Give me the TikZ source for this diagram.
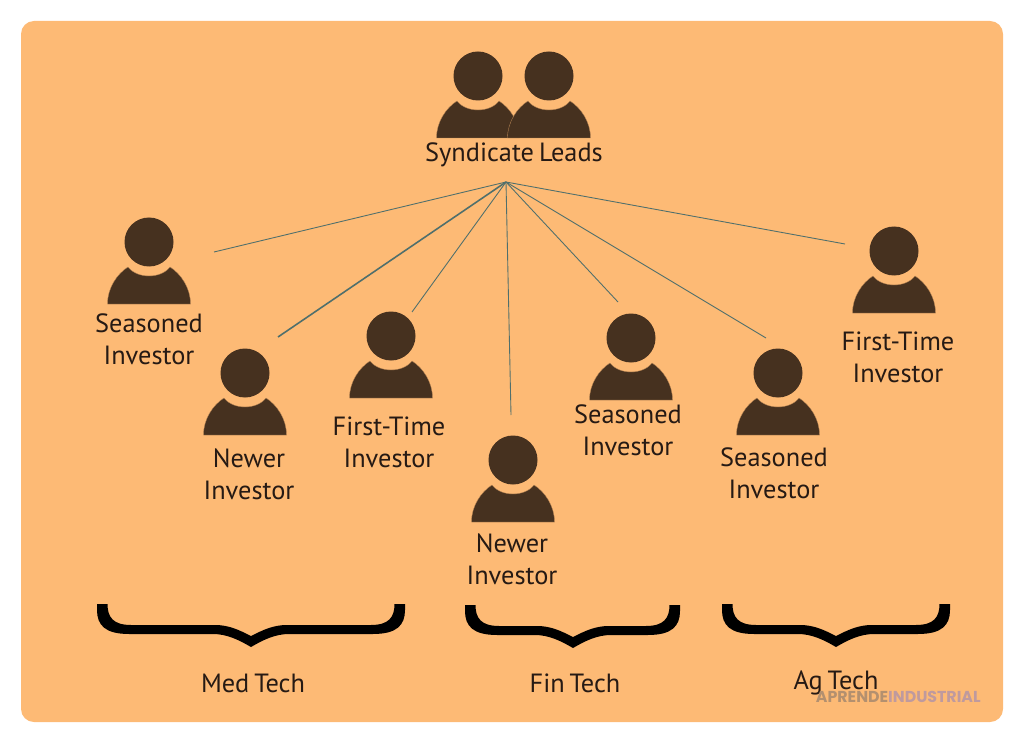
\documentclass[tikz,border=0pt]{standalone}
\usepackage{fontspec}
\setmainfont{PT Sans}[WordSpace=0.7]
\newfontfamily\markfont{Poppins}
\usetikzlibrary{positioning,calc}
\definecolor{ctBg}{HTML}{FDBA75}
\definecolor{ctFig}{HTML}{46311F}
\definecolor{ctLine}{HTML}{4F6F6C}
\definecolor{ctText}{HTML}{261A14}
\tikzset{
  lbl/.style={font=\fontsize{15}{18.2}\selectfont,text=ctText,align=center,inner sep=0pt},
  spoke/.style={ctLine,line width=0.5pt},
  pics/investor/.style={code={
    \fill[ctFig] (0,0) circle (24.5);
    \filldraw[ctFig,draw=ctBg!60!ctFig,line width=0.2pt] (-41.5,62) .. controls (-41.5,46) and (-32,32) .. (-21,25)
      .. controls (-12,37) and (12,37) .. (21,25)
      .. controls (32,32) and (41.5,46) .. (41.5,62) -- cycle;}},
  pics/techbrace/.style n args={2}{code={
    \fill[black] ({-#1},-43) -- ({-#1},-37) .. controls ({-#1},-22) and ({-#1+8},-13) .. ({-#1+32},-13)
      -- (-38,-13) .. controls (-24,-13) and (-12,-7) .. (0,0)
      .. controls (12,-7) and (24,-13) .. (38,-13) -- ({#2-32},-13)
      .. controls ({#2-8},-13) and ({#2},-22) .. ({#2},-37) -- ({#2},-43) -- ({#2-10.5},-43)
      .. controls ({#2-10.5},-30) and ({#2-16},-22) .. ({#2-34},-22)
      -- (36,-22) .. controls (22,-22) and (12,-17) .. (0,-11)
      .. controls (-12,-17) and (-22,-22) .. (-36,-22) -- ({-#1+34},-22)
      .. controls ({-#1+16},-22) and ({-#1+10.5},-30) .. ({-#1+10.5},-43) -- cycle;}}
}
\begin{document}
\begin{tikzpicture}[x=0.02cm,y=-0.02cm]
  \useasboundingbox (0,0) rectangle (1024,743);
  \fill[ctBg,rounded corners=0.26cm] (21,21) rectangle (1003,722);
  % leads
  \pic (leadA) at (478,76) {investor};
  \pic (leadB) at (549,76) {investor};
  \node[lbl] (leads) at (514,155) {Syndicate Leads};
  \coordinate (hub) at (506,182);
  % investors
  \foreach \nm/\x/\y/\lx/\ly/\first in {
    seasonedA/149/242/149/339/Seasoned,
    newerA/245/373/249/474/Newer,
    firstA/391/336/389/442/First-Time,
    newerB/513/460/512/559/Newer,
    seasonedB/631/338/628/430/Seasoned,
    seasonedC/778/373/774/473/Seasoned,
    firstB/894/251/898/357/First-Time}{
    \pic (\nm) at (\x,\y) {investor};
    \node[lbl] (lbl\nm) at (\lx,\ly) {\first\\Investor};}
  % spokes
  \foreach \nm/\x/\y in {endA/214/252,endC/412/312,endD/511/415,endE/618/302,endF/766/338,endG/845/244}{
    \coordinate (\nm) at (\x,\y);
    \draw[spoke] (hub) -- (\nm);}
  \coordinate (endB) at (278,337);
  \draw[spoke,line width=0.9pt] (hub) -- (endB);
  % sectors
  \pic (medBrace) at (251,647) {techbrace={154}{154}};
  \pic (finBrace) at (573,648) {techbrace={108}{107}};
  \pic (agBrace) at (836,647) {techbrace={114}{114}};
  \node[lbl] (med) at (253,683) {Med Tech};
  \node[lbl] (fin) at (575,683) {Fin Tech};
  \node[lbl] (ag) at (836,683) {Ag Tech};
  \node[inner sep=0pt,anchor=east] (mark) at (981,697) {\markfont\bfseries\fontsize{9}{10}\selectfont\textcolor[HTML]{B3906F}{APRENDE}\textcolor[HTML]{BF9A9E}{INDUSTRIAL}};
\end{tikzpicture}
\end{document}
